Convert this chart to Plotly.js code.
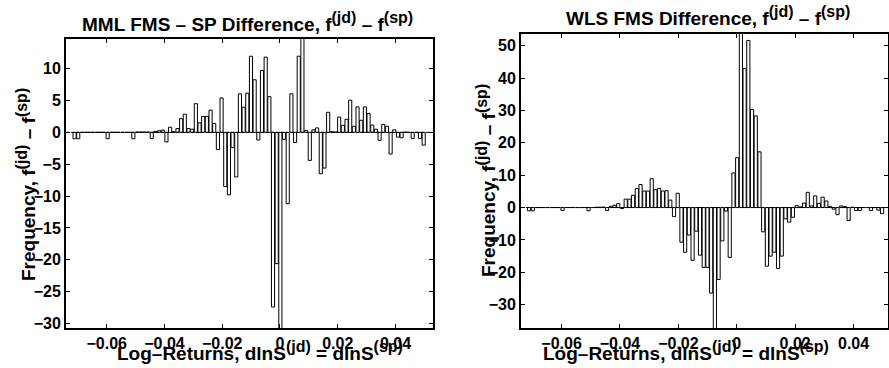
<!DOCTYPE html>
<html><head><meta charset="utf-8">
<script src="https://cdn.plot.ly/plotly-3.0.1.min.js"></script>
<style>html,body{margin:0;padding:0;background:#fff}#chart{width:889px;height:368px}</style>
</head><body><div id="chart"></div>
<script>
// histogram bins (first bin centre and bin width, log-returns)
const binStart = -0.07113;
const binWidth = 0.0012727;

// MML FMS - SP difference per bin
const mmlDiff = [-1,-1,0,0,0,0,0,0,0,-1,
 0,0,0,0,0,0,-1,0.05,0.05,0.05,
 0.05,-0.95,0.15,0.25,0.35,-1.5,0.8,0.1,0.6,2.15,
 2.85,0.6,0.5,4.5,1.5,2.5,2.5,3.5,1.4,-2.7,
 5.4,-8.5,-9.8,-2.4,-7,6.05,3.95,6.15,11.95,8.25,
 -1.2,9.7,11.8,5.6,-27.4,-20.6,-34,-1.1,-11.2,6.05,
 -1.6,11.95,16,0.3,-4.4,0.4,0.7,-6.5,-5.6,3.15,
 0.1,0.05,2.4,1.1,2.05,5.05,0.95,4,1.9,4,
 2.95,1.15,0.5,-1.25,1.25,0.95,-3.4,0.4,-0.75,-0.85,
 0.05,0,-0.95,0,-0.95,-2];

// WLS FMS difference per bin
const wlsDiff = [-1,-1,0,0,0,0,0,0,0,-0.9,
 0,0,0,0,0,0,-1,0,0.1,0.1,
 0.15,-0.9,0.4,0.7,1.2,-0.3,2.6,2.6,3.8,5.9,
 7.1,5.1,5.1,8.9,5.5,5.9,5.1,5.2,2.3,-2.8,
 4.4,-10.7,-13.8,-8.5,-16.3,-7.3,-14.7,-18.5,-18.5,-26.4,
 -40,-22.2,-10.3,-1.1,-15.4,10.7,15.4,57,42.9,51.6,
 30.3,28.3,17.2,-7.5,-18.1,-15,-13.8,-18.8,-15,-3.5,
 -4.5,-3,0.6,0.2,1.4,4.7,0.5,3.6,1.3,3.2,
 2,0.3,-0.5,-2.2,0.5,0.3,-4,0.1,-0.9,-0.9,
 0,0,-0.9,0,-0.8,-1.9];

const xTickVals = [-0.06,-0.04,-0.02,0,0.02,0.04];
const xTickText = ['\u22120.06','\u22120.04','\u22120.02','0','0.02','0.04'];
const mmlYTicks = [-30,-25,-20,-15,-10,-5,0,5,10];
const wlsYTicks = [-30,-20,-10,0,10,20,30,40,50];

const titleLeft = 'MML FMS \u2013 SP Difference, f<sup><span style="font-size:16px">(jd)</span></sup> \u2013 f<sup><span style="font-size:16px">(sp)</span></sup>';
const titleRight = 'WLS FMS Difference, f<sup><span style="font-size:16px">(jd)</span></sup> \u2013 f<sup><span style="font-size:16px">(sp)</span></sup>';
const xTitle = 'Log\u2013Returns, dlnS<sup><span style="font-size:16px">(jd)</span></sup> = dlnS<sup><span style="font-size:16px">(sp)</span></sup>';
const yTitle = 'Frequency, f<sup><span style="font-size:16px">(jd)</span></sup> \u2013 f<sup><span style="font-size:16px">(sp)</span></sup>';

const FONT = 'Liberation Sans, Arial, Helvetica, sans-serif';
const tickFont = {family: FONT, size: 16, color: '#000', weight: 'bold'};
const labFont = {family: FONT, size: 19, color: '#000', weight: 'bold'};

const barStyle = {color: '#fff', line: {color: '#000', width: 1}};
const traces = [
  {type: 'bar', x0: binStart, dx: binWidth, y: mmlDiff, marker: barStyle, xaxis: 'x', yaxis: 'y', hoverinfo: 'x+y'},
  {type: 'bar', x0: binStart, dx: binWidth, y: wlsDiff, marker: barStyle, xaxis: 'x2', yaxis: 'y2', hoverinfo: 'x+y'}
];

const ax = {showline: true, linewidth: 2, linecolor: '#000', mirror: 'ticks', ticks: 'inside',
  ticklen: 4, tickwidth: 1, tickcolor: '#000', showgrid: false, zeroline: false, tickfont: tickFont, fixedrange: true};

const W = 889, H = 368;
const layout = {
  width: W, height: H, margin: {l: 0, r: 0, t: 0, b: 0},
  paper_bgcolor: '#fff', plot_bgcolor: '#fff', showlegend: false, bargap: 0.15,
  font: tickFont,
  xaxis: Object.assign({}, ax, {domain: [66/W, 433/W], range: [-0.0741, 0.053], tickvals: xTickVals, ticktext: xTickText, anchor: 'y'}),
  yaxis: Object.assign({}, ax, {domain: [(H-328)/H, (H-39)/H], range: [-30.7, 14.65], tickvals: mmlYTicks, anchor: 'x'}),
  xaxis2: Object.assign({}, ax, {domain: [521/W, 888/W], range: [-0.0739, 0.0518], tickvals: xTickVals, ticktext: xTickText, anchor: 'y2'}),
  yaxis2: Object.assign({}, ax, {domain: [(H-328)/H, (H-34.3)/H], range: [-37.2, 53.5], tickvals: wlsYTicks, anchor: 'x2'}),
  shapes: [
    {type: 'line', xref: 'x domain', yref: 'y', x0: 0, x1: 1, y0: 0, y1: 0, line: {color: '#000', width: 1, dash: '3px,2px'}},
    {type: 'line', xref: 'x2 domain', yref: 'y2', x0: 0, x1: 1, y0: 0, y1: 0, line: {color: '#000', width: 1, dash: '3px,2px'}}
  ],
  annotations: [
    {text: titleLeft, xref: 'paper', yref: 'paper', x: 247/W, y: (H-37)/H, xanchor: 'center', yanchor: 'bottom', showarrow: false, font: labFont},
    {text: titleRight, xref: 'paper', yref: 'paper', x: 707.5/W, y: (H-31)/H, xanchor: 'center', yanchor: 'bottom', showarrow: false, font: labFont},
    {text: xTitle, xref: 'paper', yref: 'paper', x: 260/W, y: 2/H, xanchor: 'center', yanchor: 'bottom', showarrow: false, font: labFont},
    {text: xTitle, xref: 'paper', yref: 'paper', x: 685.5/W, y: 2/H, xanchor: 'center', yanchor: 'bottom', showarrow: false, font: labFont},
    {text: yTitle, xref: 'paper', yref: 'paper', x: 26/W, y: (H-185)/H, xanchor: 'center', yanchor: 'middle', textangle: -90, showarrow: false, font: labFont},
    {text: yTitle, xref: 'paper', yref: 'paper', x: 486/W, y: (H-181)/H, xanchor: 'center', yanchor: 'middle', textangle: -90, showarrow: false, font: labFont}
  ]
};

Plotly.newPlot('chart', traces, layout, {staticPlot: true, displayModeBar: false});
</script></body></html>
